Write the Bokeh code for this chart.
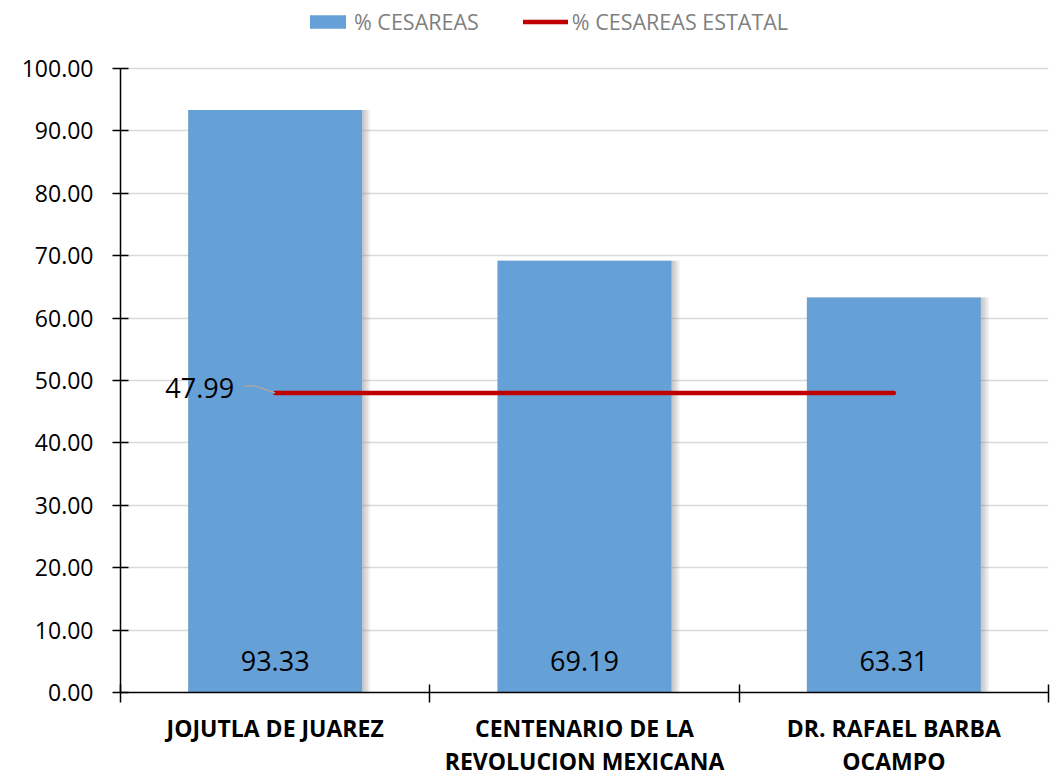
from bokeh.plotting import figure
from bokeh.models import (ColumnDataSource, FixedTicker, NumeralTickFormatter,
                          LabelSet, Legend, LegendItem, Range1d)
from bokeh.core.properties import value
from bokeh.embed import file_html
from bokeh.resources import INLINE

# ---- data ----
categories = ["JOJUTLA DE JUAREZ", "CENTENARIO DE LA\nREVOLUCION MEXICANA", "DR. RAFAEL BARBA\nOCAMPO"]
cesareas = [93.33, 69.19, 63.31]
estatal = 47.99
series_names = ["% CESAREAS", "% CESAREAS ESTATAL"]
y_ticks = [0, 10, 20, 30, 40, 50, 60, 70, 80, 90, 100]

FONT = "Open Sans"
n = len(categories)
xc = [i + 0.5 for i in range(n)]

FRAME_W, FRAME_H = 928, 692          # frame in px; value axis spans 0..100 over lower 624 px
PX = n / FRAME_W                     # data units per px (x)
PY = 100 / 624.0                     # data units per px (y)
BAR_W = 0.562

src = ColumnDataSource(dict(x=xc, top=cesareas, lab=[f"{v:.2f}" for v in cesareas], zero=[0] * n))

p = figure(frame_width=FRAME_W, frame_height=FRAME_H, x_range=Range1d(0, n),
           y_range=Range1d(0, 100 + 68 * PY),
           output_backend="svg", toolbar_location=None,
           min_border_left=120, min_border_right=5, min_border_top=0, min_border_bottom=80)
p.outline_line_color = None
p.background_fill_color = "white"

# grid
p.xgrid.grid_line_color = None
p.ygrid.grid_line_color = "#D9D9D9"
p.ygrid.grid_line_width = 1.5
p.ygrid.ticker = FixedTicker(ticks=y_ticks)

# soft right-hand shadow (layered) + bars
for k in (8, 6, 4, 2):
    p.vbar(x=[v + k * PX / 2 for v in xc], top=cesareas, width=BAR_W + k * PX,
           fill_color="#808080", fill_alpha=0.13, line_color=None)
bars = p.vbar(x="x", top="top", width=BAR_W, source=src, fill_color="#65A0D7", line_color=None)

# state line
ln = p.line(x=[xc[0], xc[-1]], y=[estatal, estatal], line_color="#C00000", line_width=4.5, line_cap="round")

# leader line for the 47.99 label
p.line(x=[xc[0] - 31 * PX, xc[0] - 20 * PX, xc[0]],
       y=[estatal + 7 * PY, estatal + 7 * PY, estatal], line_color="#A6A6A6", line_width=1.5)

lsrc = ColumnDataSource(dict(x=[xc[0]], y=[estatal], lab=[f"{estatal:.2f}"]))
p.add_layout(LabelSet(x="x", y="y", text="lab", source=lsrc, x_offset=-41, y_offset=5,
                      text_align="right", text_baseline="middle", text_font=value(FONT),
                      text_font_size=value("27px"), text_color=value("black")))

# value labels inside base
p.add_layout(LabelSet(x="x", y="zero", text="lab", source=src, y_offset=32,
                      text_align="center", text_baseline="middle", text_font=value(FONT),
                      text_font_size=value("27px"), text_color=value("black")))

# y axis
ya = p.yaxis[0]
ya.ticker = FixedTicker(ticks=y_ticks)
ya.bounds = (y_ticks[0], y_ticks[-1])
ya.formatter = NumeralTickFormatter(format="0.00")
ya.major_label_text_font = FONT
ya.major_label_text_font_size = "23px"
ya.major_label_text_color = "black"
ya.axis_line_color = "black"
ya.axis_line_width = 1.5
ya.major_tick_in = 8
ya.major_tick_out = 8
ya.major_tick_line_width = 1.5
ya.minor_tick_line_color = None
ya.major_label_standoff = 19

# x axis: ticks at category boundaries, labels at centers
xa = p.xaxis[0]
xa.ticker = FixedTicker(ticks=xc, minor_ticks=list(range(n + 1)))
xa.major_label_overrides = {x: c for x, c in zip(xc, categories)}
xa.major_tick_in = 0
xa.major_tick_out = 0
xa.minor_tick_in = 8
xa.minor_tick_out = 10
xa.minor_tick_line_width = 1.5
xa.minor_tick_line_color = "black"
xa.axis_line_color = "black"
xa.axis_line_width = 1.5
xa.major_label_text_font = FONT
xa.major_label_text_font_size = "23px"
xa.major_label_text_font_style = "bold"
xa.major_label_text_color = "black"
xa.major_label_text_line_height = 1.05
xa.major_label_standoff = 9

# legend (top, inside extended frame area)
legend = Legend(items=[LegendItem(label=series_names[0], renderers=[bars]),
                       LegendItem(label=series_names[1], renderers=[ln])],
                orientation="horizontal", location=(185, 656),
                glyph_width=45, glyph_height=17, label_standoff=4, spacing=44,
                label_text_font=FONT, label_text_font_size="21.5px", label_text_color="#7F7F7F",
                border_line_color=None, background_fill_alpha=0, padding=0, margin=0)
p.add_layout(legend)

open("out.html", "w").write(file_html(p, INLINE))
